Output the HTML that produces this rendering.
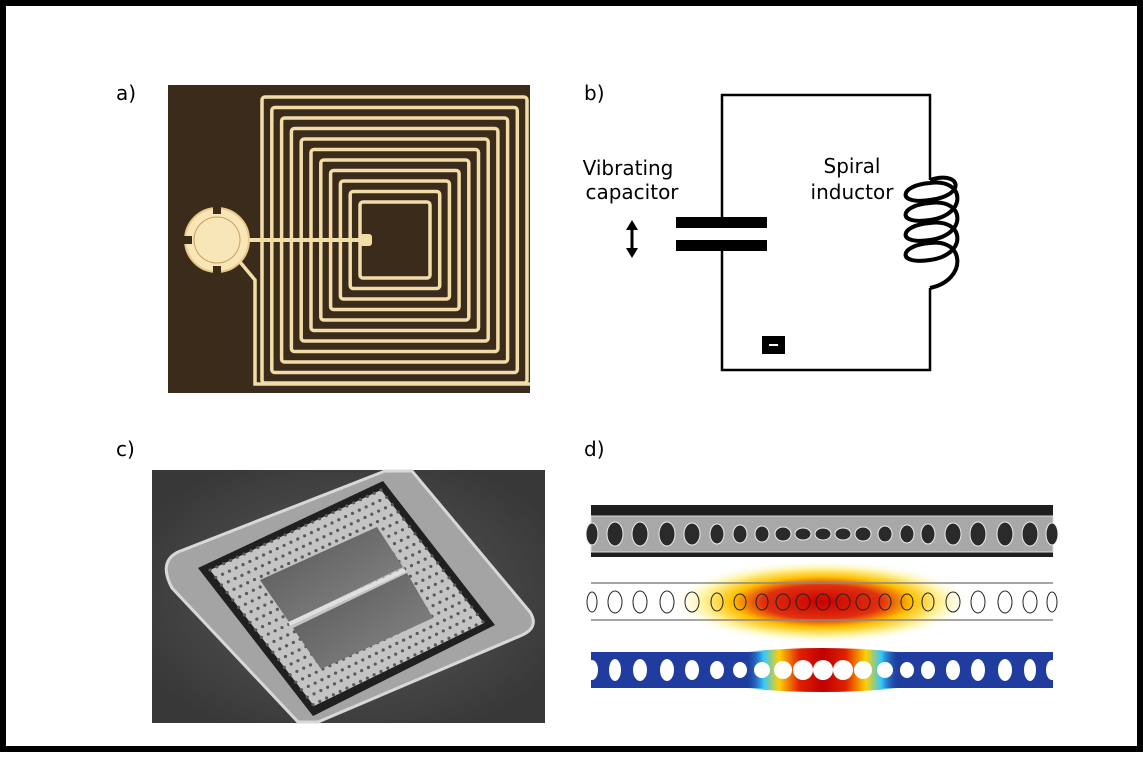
<!DOCTYPE html>
<html><head><meta charset="utf-8"><style>
html,body{margin:0;padding:0;background:#fff;}
body{width:1143px;height:753px;overflow:hidden;}
text{font-family:"DejaVu Sans","Liberation Sans",sans-serif;}
</style></head><body>
<svg id="fig" width="1143" height="753" viewBox="0 0 1143 753" xmlns="http://www.w3.org/2000/svg">
<defs>
<radialGradient id="heat" cx="0.5" cy="0.5" r="0.5">
<stop offset="0" stop-color="#c80000"/><stop offset="0.4" stop-color="#e03010"/><stop offset="0.6" stop-color="#ffc000"/><stop offset="0.8" stop-color="#fff3a0"/><stop offset="1" stop-color="#fff" stop-opacity="0"/>
</radialGradient>
<linearGradient id="heat2" x1="0" x2="1" y1="0" y2="0">
<stop offset="0" stop-color="#1f3c9e" stop-opacity="0"/><stop offset="0.12" stop-color="#30c8ff"/><stop offset="0.22" stop-color="#ffd000"/><stop offset="0.35" stop-color="#e02000"/><stop offset="0.5" stop-color="#c00000"/><stop offset="0.65" stop-color="#e02000"/><stop offset="0.78" stop-color="#ffd000"/><stop offset="0.88" stop-color="#30c8ff"/><stop offset="1" stop-color="#1f3c9e" stop-opacity="0"/>
</linearGradient>
<radialGradient id="glowC" cx="0.5" cy="0.5" r="0.6"><stop offset="0" stop-color="#5a5a5a"/><stop offset="1" stop-color="#383838"/></radialGradient>
<linearGradient id="winG" x1="0" x2="1" y1="0" y2="1"><stop offset="0" stop-color="#555"/><stop offset="1" stop-color="#8a8a8a"/></linearGradient>
</defs>
<rect x="3" y="3" width="1137" height="746" fill="#fff" stroke="#000" stroke-width="6"/>

<g>
<text x="116" y="100" font-size="20">a)</text>
<rect x="168" y="85" width="362" height="308" fill="#3b2b1b"/>
<g id="spiral" fill="none" stroke="#f2dca8" stroke-width="3.5"></g>
<circle cx="217" cy="240" r="32" fill="#f8e6b8" stroke="#e8c888" stroke-width="2"/>
<circle cx="217" cy="240" r="23" fill="none" stroke="#c8a060" stroke-width="1"/>
<rect x="184" y="236" width="8" height="8" fill="#3b2b1b"/><rect x="213" y="206" width="8" height="8" fill="#3b2b1b"/><rect x="213" y="266" width="8" height="8" fill="#3b2b1b"/>
<line x1="249" y1="240" x2="366" y2="240" stroke="#f2dca8" stroke-width="4"/>
<rect x="360" y="234" width="12" height="12" rx="3" fill="#f2dca8"/>
<polyline points="240,262 255,280 255,384 530,384" fill="none" stroke="#f2dca8" stroke-width="3.5"/>
</g>

<g>
<text x="584" y="100" font-size="20">b)</text>
<polyline points="722,218 722,95 930,95 930,180" fill="none" stroke="#000" stroke-width="2.5"/>
<polyline points="722,250 722,370 930,370 930,288" fill="none" stroke="#000" stroke-width="2.5"/>
<rect x="676" y="217" width="91" height="11" fill="#000"/>
<rect x="676" y="240" width="91" height="11" fill="#000"/>
<path d="M930,180 C960,170 968,195 930,200 C895,205 900,185 930,183 C965,178 968,215 930,220 C895,225 900,205 930,203 C965,198 968,235 930,240 C895,245 900,225 930,223 C965,218 968,255 930,260 C895,265 900,245 930,243 C965,238 968,280 930,288" fill="none" stroke="#000" stroke-width="4"/>
<text x="628" y="175" font-size="20" text-anchor="middle">Vibrating</text>
<text x="632" y="199" font-size="20" text-anchor="middle">capacitor</text>
<text x="852" y="173" font-size="20" text-anchor="middle">Spiral</text>
<text x="852" y="199" font-size="20" text-anchor="middle">inductor</text>
<g><line x1="632" y1="226" x2="632" y2="252" stroke="#000" stroke-width="3"/><path d="M626,230 L632,220 L638,230 Z M626,248 L632,258 L638,248 Z" fill="#000"/></g>
<rect x="762" y="336" width="23" height="18" fill="#000"/>
<line x1="769" y1="345" x2="778" y2="345" stroke="#fff" stroke-width="2"/>
</g>

<g>
<text x="116" y="456" font-size="20">c)</text>
<rect x="152" y="470" width="393" height="253" fill="url(#glowC)"/>
<path d="M178,552 L385,471 L412,471 L530,612 Q540,628 520,636 L318,722 L298,722 L172,588 Q158,562 178,552 Z" fill="#a4a4a4" stroke="#d8d8d8" stroke-width="3"/>
<polygon points="198,568 383,481 495,625 313,716" fill="#202020"/>
<polygon points="210,570 381,490 484,623 314,706" fill="#c4c4c4"/>
<g id="lattice" fill="#5a5a5a"></g>
<polygon points="260,580 377,527 403,567 289,622" fill="url(#winG)"/>
<polygon points="293,628 407,573 433,618 321,669" fill="url(#winG)"/>
<line x1="289" y1="624" x2="405" y2="570" stroke="#e0e0e0" stroke-width="4"/>
</g>

<g>
<text x="584" y="456" font-size="20">d)</text>
<rect x="591" y="505" width="462" height="52" fill="#1e1e1e"/>
<rect x="591" y="516" width="462" height="36" fill="#a8a8a8" stroke="#ddd" stroke-width="1"/>
<g id="semholes"></g>
<ellipse cx="822" cy="602" rx="150" ry="42" fill="url(#heat)"/>
<line x1="591" y1="583" x2="1053" y2="583" stroke="#888" stroke-width="1.5"/>
<line x1="591" y1="620" x2="1053" y2="620" stroke="#888" stroke-width="1.5"/>
<g id="fieldholes"></g>
<rect x="591" y="652" width="462" height="36" fill="#1f3c9e"/>
<path d="M745,652 Q822,644 900,652 L900,688 Q822,696 745,688 Z" fill="url(#heat2)"/>
<g id="strainholes" fill="#fff"></g>
</g>
</svg>
<script>
const NS="http://www.w3.org/2000/svg";
function mk(t,a,p){const e=document.createElementNS(NS,t);for(const k in a)e.setAttribute(k,a[k]);p.appendChild(e);return e;}
const sp=document.getElementById('spiral');
for(let i=0;i<11;i++){const x1=262+i*9.8,y1=97+i*10.5,x2=527-i*9.7,y2=383-i*10.5;
 const e=mk('rect',{x:x1,y:y1,width:x2-x1,height:y2-y1,rx:3},sp);
 
 }
const lat=document.getElementById('lattice');
for(let u=0;u<=1.0001;u+=0.04)for(let v=0;v<=1.0001;v+=0.055){
 const x=210+u*(381-210)+v*(314-210)+u*v*(484-381-314+210);
 const y=570+u*(490-570)+v*(706-570)+u*v*(623-490-706+570);
 const c=mk('circle',{cx:x,cy:y,r:1.6},lat);
 
 }
const holeX=[592,615,640,667,692,717,740,762,783,803,823,843,863,885,907,928,953,978,1005,1030,1052];
const holeRx=[6,8,8,8,8,7,7,7,8,8,8,8,8,7,7,7,8,8,8,8,6];
const holeRy=[11,12,12,12,11,10,9,8,7,6,6,6,7,8,9,10,11,12,12,12,11];
const strainR=[6,6,7,7,7,7,7,8,9,10,10,10,9,8,7,7,7,7,7,6,6];
const semG=document.getElementById('semholes'),fG=document.getElementById('fieldholes'),sG=document.getElementById('strainholes');
for(let i=0;i<holeX.length;i++){const x=holeX[i],r=holeRx[i],ry=holeRy[i];
 const a=mk('ellipse',{cx:x,cy:534,rx:r,ry:ry,fill:'#2a2a2a',stroke:'#eee','stroke-width':1},semG);
 
 
 const b=mk('ellipse',{cx:x,cy:602,rx:r-1,ry:Math.max(ry-1,8),fill:'none',stroke:'#222','stroke-width':1},fG);
 
 
 const sr=strainR[i];
 const c=mk('ellipse',{cx:x,cy:670,rx:sr,ry:Math.max(sr,ry-1)},sG);
 
 }
</script>
</body></html>
